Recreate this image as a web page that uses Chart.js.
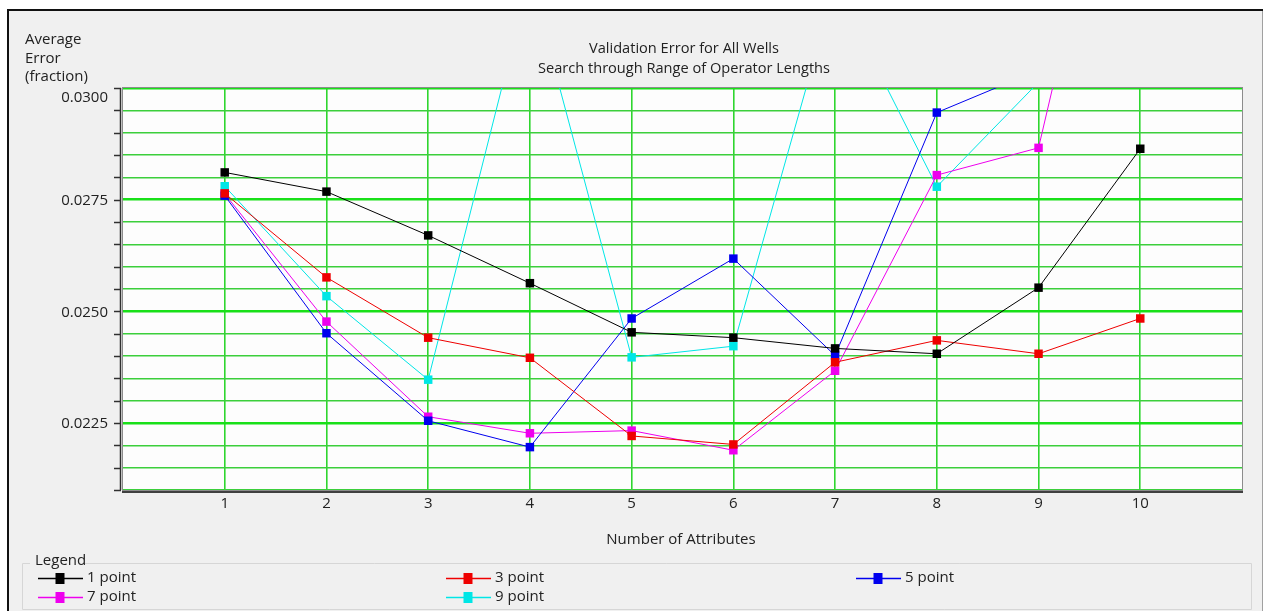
<!DOCTYPE html>
<html>
<head>
<meta charset="utf-8">
<script src="https://cdn.jsdelivr.net/npm/chart.js@4/dist/chart.umd.min.js"></script>
<style>
  html, body { margin: 0; padding: 0; background: #ffffff; }
  #wrap { position: relative; width: 1264px; height: 611px; }
  canvas { display: block; }
</style>
</head>
<body>
<div id="wrap"><canvas id="c" width="1264" height="611"></canvas></div>
<script>
// Number of attributes on the x axis
const categories = [1, 2, 3, 4, 5, 6, 7, 8, 9, 10];

// Average validation error (fraction) per operator length
const onePoint   = [0.02811, 0.02768, 0.02670, 0.02563, 0.02453, 0.02441, 0.02417, 0.02405, 0.02553, 0.02864];
const threePoint = [0.02764, 0.02576, 0.02441, 0.02396, 0.02221, 0.02202, 0.02386, 0.02435, 0.02405, 0.02484];
const fivePoint  = [0.02759, 0.02451, 0.02255, 0.02196, 0.02484, 0.02618, 0.02401, 0.02945, 0.03040, null];
const sevenPoint = [0.02763, 0.02477, 0.02264, 0.02227, 0.02233, 0.02189, 0.02367, 0.02805, 0.02866, 0.03840];
const ninePoint  = [0.02780, 0.02534, 0.02347, 0.03250, 0.02397, 0.02422, 0.03230, 0.02779, 0.03013, null];

const seriesNames  = ['1 point', '3 point', '5 point', '7 point', '9 point'];
const seriesValues = [onePoint, threePoint, fivePoint, sevenPoint, ninePoint];
const seriesColors = ['#000000', '#ee0000', '#0000ee', '#ee00ee', '#00e6e6'];

// Y axis range and labelled ticks
const yMin = 0.0210, yMax = 0.0300, yStep = 0.0005, yMajor = 0.0025;
const yTickValues = [0.0225, 0.0250, 0.0275, 0.0300];
const yTickLabels = ['0.0225', '0.0250', '0.0275', '0.0300'];

const titleLines = ['Validation Error for All Wells', 'Search through Range of Operator Lengths'];
const yTitleLines = ['Average', 'Error', '(fraction)'];
const xTitle = 'Number of Attributes';
const legendTitle = 'Legend';

const FONT = '"Open Sans", "Noto Sans", sans-serif';
const TEXT = '#222222';

function isMajor(v) {
  const r = v / yMajor;
  return Math.abs(r - Math.round(r)) < 1e-6;
}

const datasets = seriesNames.map((name, i) => ({
  label: name,
  data: categories.map((c, k) => ({ x: c, y: seriesValues[i][k] })),
  borderColor: seriesColors[i],
  backgroundColor: seriesColors[i],
  borderWidth: 1,
  pointStyle: 'rect',
  pointRadius: 6,
  pointBorderWidth: 0,
  pointHoverRadius: 6,
  tension: 0,
  spanGaps: false,
  clip: 0
}));

// Frame, titles, axis furniture and the grouped legend
const decor = {
  id: 'decor',
  beforeDraw(chart) {
    const { ctx, chartArea: a } = chart;
    ctx.save();
    ctx.fillStyle = '#ffffff';
    ctx.fillRect(0, 0, chart.width, chart.height);
    ctx.fillStyle = '#f0f0f0';
    ctx.fillRect(9, 11, 1253, 600);
    // outer window border
    ctx.strokeStyle = '#111111';
    ctx.lineWidth = 2;
    ctx.beginPath();
    ctx.moveTo(8, 611); ctx.lineTo(8, 10); ctx.lineTo(1263, 10);
    ctx.stroke();
    ctx.strokeStyle = '#a0a0a0';
    ctx.lineWidth = 1;
    ctx.beginPath();
    ctx.moveTo(1262.5, 11); ctx.lineTo(1262.5, 611);
    ctx.stroke();
    // plot area
    ctx.fillStyle = '#fdfdfd';
    ctx.fillRect(a.left, a.top, a.right - a.left, a.bottom - a.top);
    ctx.restore();
  },
  afterDraw(chart) {
    const { ctx, chartArea: a } = chart;
    const ys = chart.scales.y;
    ctx.save();
    // plot frame
    ctx.strokeStyle = '#8c8c8c';
    ctx.lineWidth = 1;
    ctx.strokeRect(a.left - 0.5, a.top - 0.5, a.right - a.left + 1, a.bottom - a.top + 1);
    ctx.strokeStyle = '#404040';
    ctx.lineWidth = 2;
    ctx.beginPath();
    ctx.moveTo(a.left - 1, a.bottom + 2); ctx.lineTo(a.right + 1, a.bottom + 2);
    ctx.stroke();
    // y axis line with outward ticks
    ctx.strokeStyle = '#303030';
    ctx.lineWidth = 1.5;
    ctx.beginPath();
    ctx.moveTo(120.5, a.top); ctx.lineTo(120.5, a.bottom);
    for (let v = yMin; v <= yMax + 1e-9; v += yStep) {
      const py = Math.round(ys.getPixelForValue(v)) + 0.5;
      ctx.moveTo(114, py); ctx.lineTo(121, py);
    }
    ctx.stroke();

    ctx.fillStyle = TEXT;
    ctx.font = '15px ' + FONT;
    ctx.textBaseline = 'middle';
    // y tick labels; the top one sits just under its tick
    ctx.textAlign = 'right';
    yTickValues.forEach((v, i) => {
      const py = Math.max(ys.getPixelForValue(v), a.top + 9);
      ctx.fillText(yTickLabels[i], 108, py + 1);
    });
    // titles
    ctx.textAlign = 'center';
    ctx.font = '14.6px ' + FONT;
    ctx.fillText(titleLines[0], 684, 49);
    ctx.fillText(titleLines[1], 684, 69);
    ctx.font = '15px ' + FONT;
    ctx.fillText(xTitle, 681, 540);
    // y axis title
    ctx.textAlign = 'left';
    yTitleLines.forEach((t, i) => ctx.fillText(t, 25, 40 + i * 18.5));

    // legend group box
    ctx.strokeStyle = '#d6d6d6';
    ctx.lineWidth = 1;
    ctx.beginPath();
    ctx.moveTo(82, 563.5); ctx.lineTo(1251.5, 563.5); ctx.lineTo(1251.5, 609.5);
    ctx.lineTo(22.5, 609.5); ctx.lineTo(22.5, 563.5); ctx.lineTo(30, 563.5);
    ctx.stroke();
    ctx.fillText(legendTitle, 35, 561);
    const cols = [60, 468, 878];
    const rows = [578, 597];
    chart.data.datasets.forEach((ds, i) => {
      const cx = cols[i % 3], cy = rows[Math.floor(i / 3)];
      ctx.strokeStyle = ds.borderColor;
      ctx.lineWidth = 1.5;
      ctx.beginPath();
      ctx.moveTo(cx - 22, cy + 0.5); ctx.lineTo(cx + 23, cy + 0.5);
      ctx.stroke();
      ctx.fillStyle = ds.backgroundColor;
      ctx.fillRect(cx - 4.5, cy - 5, 9, 11);
      ctx.fillStyle = TEXT;
      ctx.fillText(ds.label, cx + 27, cy);
    });
    ctx.restore();
  }
};

new Chart(document.getElementById('c'), {
  type: 'line',
  data: { datasets },
  options: {
    responsive: false,
    animation: false,
    events: [],
    layout: { padding: { left: 0, top: 88, right: 22, bottom: 91 } },
    plugins: { legend: { display: false }, title: { display: false }, tooltip: { enabled: false } },
    scales: {
      x: {
        type: 'linear',
        min: 0, max: 11,
        afterFit(s) { s.height = 30; },
        border: { display: false },
        grid: {
          drawTicks: false,
          color: (c) => (c.tick && c.tick.value >= 1 && c.tick.value <= 10) ? '#2fd62f' : 'rgba(0,0,0,0)',
          lineWidth: 1.6
        },
        ticks: {
          stepSize: 1,
          autoSkip: false,
          maxRotation: 0,
          padding: 5,
          color: TEXT,
          font: { family: FONT, size: 15 },
          callback: (v) => categories.includes(v) ? String(v) : ''
        }
      },
      y: {
        min: yMin, max: yMax,
        afterFit(s) { s.width = 123; },
        border: { display: false },
        grid: {
          drawTicks: false,
          color: (c) => isMajor(c.tick.value) ? '#19e019' : '#3ccf3c',
          lineWidth: (c) => isMajor(c.tick.value) ? 2.6 : 1.6
        },
        ticks: {
          stepSize: yStep,
          autoSkip: false,
          display: false
        }
      }
    }
  },
  plugins: [decor]
});
</script>
</body>
</html>
